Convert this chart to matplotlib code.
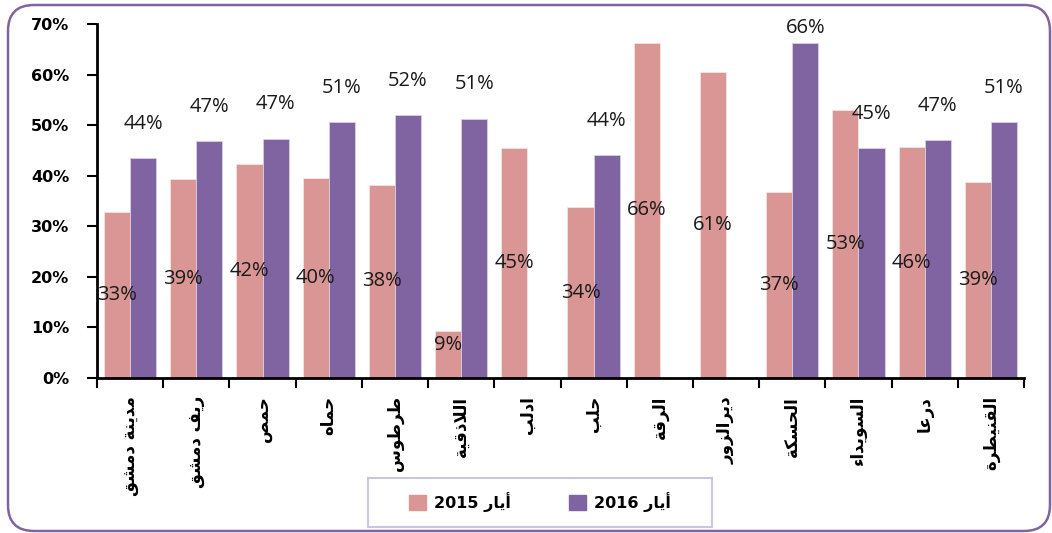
import numpy as np
import matplotlib
matplotlib.use('Agg')
import matplotlib.pyplot as plt
from matplotlib.patches import FancyBboxPatch, Rectangle, Patch
import matplotlib.transforms as mtransforms

# data (percent)
regions = ['مدينة دمشق', 'ريف دمشق', 'حمص', 'حماه', 'طرطوس', 'اللاذقية', 'ادلب',
           'حلب', 'الرقة', 'ديرالزور', 'الحسكة', 'السويداء', 'درعا', 'القنيطرة']
may_2015 = [32.8, 39.3, 42.3, 39.6, 38.2, 9.3, 45.4, 33.8, 66.3, 60.6, 36.8, 53.0, 45.6, 38.8]
may_2016 = [43.5, 46.8, 47.3, 50.6, 52.0, 51.3, np.nan, 44.1, np.nan, np.nan, 66.3, 45.4, 47.0, 50.6]
series_names = ['أيار 2015', 'أيار 2016']
yticks = [0, 10, 20, 30, 40, 50, 60, 70]

PINK = '#d99694'
PURPLE = '#8064a2'

# matplotlib has no arabic shaping, so map letters to their presentation forms
FORMS = {
    'ء': (0xFE80,), 'آ': (0xFE81, 0xFE82), 'أ': (0xFE83, 0xFE84), 'إ': (0xFE87, 0xFE88),
    'ا': (0xFE8D, 0xFE8E), 'ب': (0xFE8F, 0xFE90, 0xFE91, 0xFE92), 'ة': (0xFE93, 0xFE94),
    'ت': (0xFE95, 0xFE96, 0xFE97, 0xFE98), 'ح': (0xFEA1, 0xFEA2, 0xFEA3, 0xFEA4),
    'د': (0xFEA9, 0xFEAA), 'ذ': (0xFEAB, 0xFEAC), 'ر': (0xFEAD, 0xFEAE), 'ز': (0xFEAF, 0xFEB0),
    'س': (0xFEB1, 0xFEB2, 0xFEB3, 0xFEB4), 'ش': (0xFEB5, 0xFEB6, 0xFEB7, 0xFEB8),
    'ص': (0xFEB9, 0xFEBA, 0xFEBB, 0xFEBC), 'ط': (0xFEC1, 0xFEC2, 0xFEC3, 0xFEC4),
    'ع': (0xFEC9, 0xFECA, 0xFECB, 0xFECC), 'ف': (0xFED1, 0xFED2, 0xFED3, 0xFED4),
    'ق': (0xFED5, 0xFED6, 0xFED7, 0xFED8), 'ك': (0xFED9, 0xFEDA, 0xFEDB, 0xFEDC),
    'ل': (0xFEDD, 0xFEDE, 0xFEDF, 0xFEE0), 'م': (0xFEE1, 0xFEE2, 0xFEE3, 0xFEE4),
    'ن': (0xFEE5, 0xFEE6, 0xFEE7, 0xFEE8), 'ه': (0xFEE9, 0xFEEA, 0xFEEB, 0xFEEC),
    'و': (0xFEED, 0xFEEE), 'ي': (0xFEF1, 0xFEF2, 0xFEF3, 0xFEF4),
    'لا': (0xFEFB, 0xFEFC), 'لأ': (0xFEF7, 0xFEF8),
}


def shape_word(word):
    units = []
    i = 0
    while i < len(word):
        if word[i] == 'ل' and i + 1 < len(word) and word[i + 1] in 'اأ':
            units.append(word[i:i + 2])
            i += 2
        else:
            units.append(word[i])
            i += 1
    out = []
    for k, u in enumerate(units):
        if u not in FORMS:
            out.append(u)
            continue
        f = FORMS[u]
        prev = k > 0 and len(FORMS.get(units[k - 1], ())) == 4 and len(f) >= 2
        nxt = len(f) == 4 and k + 1 < len(units) and len(FORMS.get(units[k + 1], ())) >= 2
        idx = 3 if (prev and nxt) else 1 if prev else 2 if nxt else 0
        out.append(chr(f[idx]))
    return ''.join(out[::-1])


def rtl(text):
    words = text.split(' ')
    return ' '.join(shape_word(w) if any(c in FORMS for c in w) else w for w in words[::-1])


fig = plt.figure(figsize=(10.52, 5.33), dpi=100)
ax = fig.add_axes([97 / 1052, 1 - 378 / 533, 927 / 1052, 354 / 533])

x = np.arange(len(regions))
w = 0.395
ax.bar(x - w / 2, may_2015, w, color=PINK, edgecolor='#f2e4e4', linewidth=0.6)
ax.bar(x + w / 2, may_2016, w, color=PURPLE, edgecolor='#d9d0e6', linewidth=0.6)

# value labels, placed roughly like the excel layout
for xi, v in zip(x, may_2015):
    ax.text(xi - w / 2, max(v / 2, 6.5), f'{v:.0f}%', ha='center', va='center',
            fontsize=14.5, family='Open Sans', color='#1a1a1a')
for xi, v in zip(x, may_2016):
    if np.isnan(v):
        continue
    ax.text(xi + w / 2, min(v + 6.8, 69.2), f'{v:.0f}%', ha='center', va='center',
            fontsize=14.5, family='Open Sans', color='#1a1a1a')

ax.set_xlim(-0.5, len(regions) - 0.5)
ax.set_ylim(0, 70)
ax.set_yticks(yticks)
ax.set_yticklabels([f'{t}%' for t in yticks], fontsize=11.5, fontweight='bold')
ax.tick_params(axis='y', direction='out', length=7, width=1.5, pad=13)

ax.set_xticks(x)
ax.set_xticklabels([rtl(r) for r in regions], rotation=90, fontsize=12,
                   fontweight='bold', family='DejaVu Sans', va='top', ha='center')
ax.set_xticks(np.arange(len(regions) + 1) - 0.5, minor=True)
ax.tick_params(axis='x', which='major', length=0, pad=13)
ax.tick_params(axis='x', which='minor', direction='out', length=7, width=1.5)

for s in ['top', 'right']:
    ax.spines[s].set_visible(False)
for s in ['left', 'bottom']:
    ax.spines[s].set_linewidth(2)

# legend with its own frame
fig.patches.append(Rectangle((368 / 1052, 1 - 527 / 533), 344 / 1052, 49 / 533,
                             transform=fig.transFigure, fill=False,
                             edgecolor='#cdc4e0', linewidth=1.5))
handles = [Patch(color=PINK), Patch(color=PURPLE)]
leg = fig.legend(handles, [rtl(n) for n in series_names], loc='center',
                 bbox_to_anchor=(540 / 1052, 1 - 502 / 533), ncol=2, frameon=False,
                 handlelength=1.1, handleheight=1.1, handletextpad=0.5, columnspacing=3.6,
                 prop={'family': 'DejaVu Sans', 'weight': 'bold', 'size': 11.5})

# rounded outer border
border = FancyBboxPatch((8, 2), 1042, 526, boxstyle='round,pad=0,rounding_size=26',
                        transform=mtransforms.IdentityTransform(), fill=False,
                        edgecolor=PURPLE, linewidth=1.8)
fig.patches.append(border)

fig.savefig('out.png', dpi=100)
